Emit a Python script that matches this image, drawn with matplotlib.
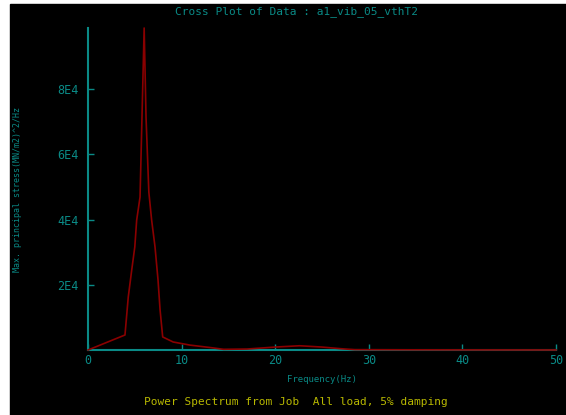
import matplotlib
matplotlib.use("Agg")
import matplotlib.pyplot as plt
from matplotlib.patches import Rectangle

# spectrum (frequency in Hz, PSD)
freq = [0.0, 3.95, 4.3, 4.67, 5.0, 5.2, 5.56, 6.0, 6.2, 6.5, 6.8, 7.16, 7.48,
        7.7, 7.98, 9.1, 10.9, 13.2, 14.5, 17.0, 20.0, 22.6, 25.0, 27.0, 28.5,
        35.0, 40.0, 45.0, 50.0]
psd = [0, 4600, 16200, 24500, 31600, 39800, 46900, 98700, 71400, 48400,
       39800, 31600, 21500, 12300, 4000, 2450, 1500, 700, 200, 300, 900,
       1300, 900, 400, 100, 50, 30, 20, 10]

x_ticks = [0, 10, 20, 30, 40, 50]
y_ticks = [20000, 40000, 60000, 80000]
y_tick_labels = ["2E4", "4E4", "6E4", "8E4"]

teal = "#0a8a86"
dark_red = "#8a0000"
yellow = "#b8b800"
mono = "DejaVu Sans Mono"

fig = plt.figure(figsize=(5.66, 4.15), dpi=100)
fig.patch.set_facecolor("white")
fig.add_artist(Rectangle((10 / 566, 0), 1, 411 / 415, transform=fig.transFigure,
                         color="black", zorder=-10))

ax = fig.add_axes([88 / 566, 65 / 415, 468 / 566, 322 / 415])
ax.set_facecolor("black")
ax.patch.set_alpha(0)

ax.plot(freq, psd, color=dark_red, lw=1.2, zorder=3, clip_on=False)

ax.set_xlim(0, 50)
ax.set_ylim(0, 98700)
for s in ["top", "right"]:
    ax.spines[s].set_visible(False)
for s in ["left", "bottom"]:
    ax.spines[s].set_color(teal)
    ax.spines[s].set_linewidth(1.5)

ax.set_xticks(x_ticks)
ax.set_yticks(y_ticks)
ax.set_yticklabels(y_tick_labels)
ax.tick_params(axis="both", direction="in", colors=teal, length=4, width=1,
               labelsize=8.5)
ax.tick_params(axis="x", pad=3)
ax.tick_params(axis="y", pad=7)
for lbl in ax.get_xticklabels() + ax.get_yticklabels():
    lbl.set_family(mono)
    lbl.set_color(teal)

fig.text(296 / 566, 1 - 12 / 415, "Cross Plot of Data : a1_vib_05_vthT2",
         color=teal, family=mono, fontsize=8, ha="center", va="center")
fig.text(322 / 566, 1 - 380 / 415, "Frequency(Hz)", color=teal, family=mono,
         fontsize=6.5, ha="center", va="center")
fig.text(18 / 566, 1 - 190 / 415, "Max. principal stress(MN/m2)^2/Hz",
         color=teal, family=mono, fontsize=6, ha="center", va="center",
         rotation=90)
fig.text(296 / 566, 1 - 402 / 415, "Power Spectrum from Job  All load, 5% damping",
         color=yellow, family=mono, fontsize=8, ha="center", va="center")

fig.savefig("out.png", dpi=100)
